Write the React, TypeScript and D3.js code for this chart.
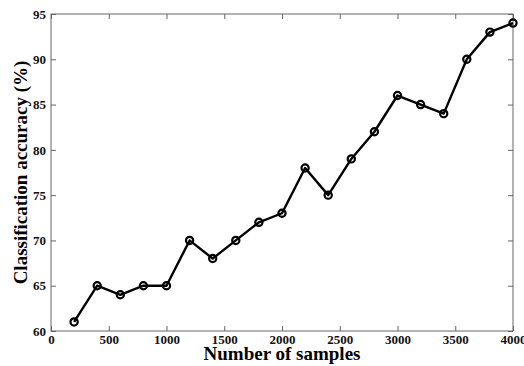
import { useEffect, useRef } from 'react';
import * as d3 from 'd3';

const samples = [200, 400, 600, 800, 1000, 1200, 1400, 1600, 1800, 2000, 2200, 2400, 2600, 2800, 3000, 3200, 3400, 3600, 3800, 4000];
const accuracy = [61, 65, 64, 65, 65, 70, 68, 70, 72, 73, 78, 75, 79, 82, 86, 85, 84, 90, 93, 94];
const xTicks = [0, 500, 1000, 1500, 2000, 2500, 3000, 3500, 4000];
const yTicks = [60, 65, 70, 75, 80, 85, 90, 95];

const width = 524;
const height = 366;

export default function App() {
  const ref = useRef<SVGSVGElement>(null);

  useEffect(() => {
    if (!ref.current) return;
    const svg = d3.select(ref.current);
    svg.selectAll('*').remove();

    const margin = { top: 14, right: 11, bottom: 35, left: 51 };
    const innerW = width - margin.left - margin.right;
    const innerH = height - margin.top - margin.bottom;
    const font = '"Liberation Serif", "Times New Roman", serif';
    const axisColor = '#666';

    const g = svg.append('g').attr('transform', `translate(${margin.left},${margin.top})`);

    const x = d3.scaleLinear().domain([0, 4000]).range([0, innerW]);
    const y = d3.scaleLinear().domain([60, 95]).range([innerH, 0]);

    // box
    g.append('rect')
      .attr('width', innerW)
      .attr('height', innerH)
      .attr('fill', 'white')
      .attr('stroke', axisColor)
      .attr('stroke-width', 1);

    const styleAxis = (sel: d3.Selection<SVGGElement, unknown, null, undefined>, labels: boolean) => {
      sel.select('.domain').remove();
      sel.selectAll('line').attr('stroke', axisColor);
      if (labels) {
        sel.selectAll('text')
          .attr('fill', '#111')
          .attr('font-family', font)
          .attr('font-weight', 'bold')
          .attr('font-size', '13px');
      } else {
        sel.selectAll('text').remove();
      }
    };

    g.append('g')
      .attr('transform', `translate(0,${innerH})`)
      .call(d3.axisBottom(x).tickValues(xTicks).tickSizeInner(-5).tickSizeOuter(0).tickPadding(4).tickFormat(d3.format('d')))
      .call((s) => styleAxis(s, true));
    g.append('g')
      .call(d3.axisTop(x).tickValues(xTicks).tickSizeInner(-5).tickSizeOuter(0))
      .call((s) => styleAxis(s, false));
    g.append('g')
      .call(d3.axisLeft(y).tickValues(yTicks).tickSizeInner(-5).tickSizeOuter(0).tickPadding(5).tickFormat(d3.format('d')))
      .call((s) => styleAxis(s, true));
    g.append('g')
      .attr('transform', `translate(${innerW},0)`)
      .call(d3.axisRight(y).tickValues(yTicks).tickSizeInner(-5).tickSizeOuter(0))
      .call((s) => styleAxis(s, false));

    const pts = samples.map((s, i) => [s, accuracy[i]] as [number, number]);
    const line = d3.line<[number, number]>().x((d) => x(d[0])).y((d) => y(d[1]));

    g.append('path')
      .datum(pts)
      .attr('fill', 'none')
      .attr('stroke', '#000')
      .attr('stroke-width', 2.4)
      .attr('stroke-linejoin', 'round')
      .attr('d', line);

    g.selectAll('circle.m')
      .data(pts)
      .join('circle')
      .attr('class', 'm')
      .attr('cx', (d) => x(d[0]))
      .attr('cy', (d) => y(d[1]))
      .attr('r', 3.6)
      .attr('fill', 'none')
      .attr('stroke', '#000')
      .attr('stroke-width', 2.2);

    svg.append('text')
      .attr('x', margin.left + innerW / 2)
      .attr('y', 360)
      .attr('text-anchor', 'middle')
      .attr('font-family', font)
      .attr('font-weight', 'bold')
      .attr('font-size', '19px')
      .attr('fill', '#000')
      .text('Number of samples');

    svg.append('text')
      .attr('transform', `translate(27,${margin.top + innerH / 2}) rotate(-90)`)
      .attr('text-anchor', 'middle')
      .attr('font-family', font)
      .attr('font-weight', 'bold')
      .attr('font-size', '19px')
      .attr('fill', '#000')
      .text('Classification accuracy (%)');
  }, []);

  return (
    <svg
      ref={ref}
      width={width}
      height={height}
      style={{ position: 'absolute', left: 0, top: 0, background: 'white' }}
    />
  );
}
